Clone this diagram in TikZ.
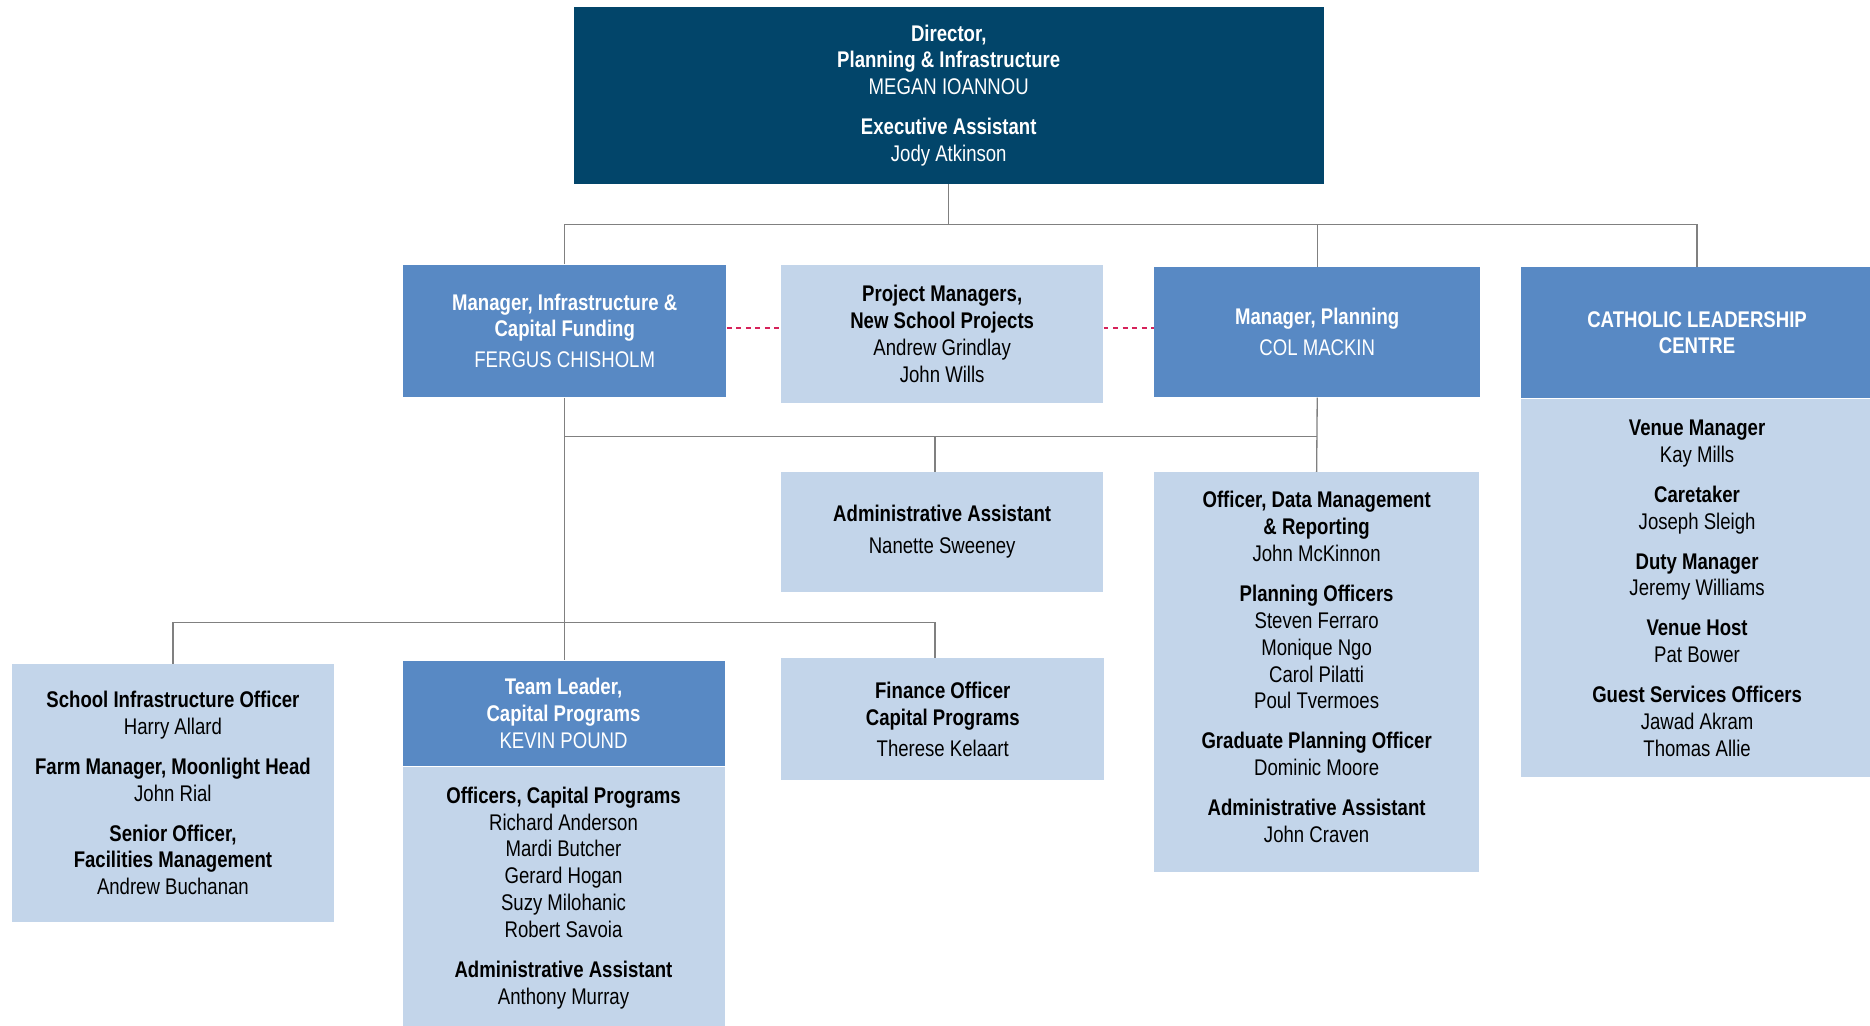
\documentclass[tikz,border=0pt]{standalone}
\usepackage{fontspec}
\setmainfont{Liberation Sans}[FakeStretch=0.82]
\usetikzlibrary{positioning}
\definecolor{navy}{RGB}{2,69,106}
\definecolor{midblue}{RGB}{88,137,196}
\definecolor{paleblue}{RGB}{195,213,234}
\definecolor{linkred}{RGB}{214,34,90}

\begin{document}
\begin{tikzpicture}[
    x=0.5pt, y=-0.5pt,
    every node/.style={font=\fontsize{9.5}{11.25}\selectfont, align=center, inner sep=0pt},
    dirbox/.style={rectangle, fill=navy, text=white, minimum width=314.5pt, minimum height=74pt},
    mgr/.style={rectangle, fill=midblue, text=white, minimum width=135.5pt},
    staff/.style={rectangle, fill=paleblue, text=black, minimum width=135.5pt},
    line/.style={draw, gray, line width=0.55pt},
    link/.style={draw, linkred, dash pattern=on 2pt off 2pt, line width=0.6pt}
]
    \useasboundingbox (0,0) rectangle (1568,860);

    % top level
    \node [dirbox] (dir) at (795.5,80) {\textbf{Director,}\\\textbf{Planning \& Infrastructure}\\MEGAN IOANNOU\\[5.5pt]\textbf{Executive Assistant}\\Jody Atkinson};

    % managers
    \node [mgr, minimum height=55.5pt] (infra) at (473.5,277.5) {\textbf{Manager, Infrastructure \&}\\\textbf{Capital Funding}\\[1.75pt]FERGUS CHISHOLM};
    \node [staff, minimum width=135pt, minimum height=58pt] (proj) at (790,280) {\textbf{Project Managers,}\\\textbf{New School Projects}\\Andrew Grindlay\\John Wills};
    \node [mgr, minimum width=136.5pt, minimum height=54.5pt] (plan) at (1104.5,278.5) {\textbf{Manager, Planning}\\[1.75pt]COL MACKIN};
    \node [mgr, minimum width=148pt, minimum height=55pt] (clc) at (1423,279) {\textbf{CATHOLIC LEADERSHIP}\\\textbf{CENTRE}};
    \node [staff, minimum width=148pt, minimum height=158.5pt, below=0pt of clc] (clcstaff) {\textbf{Venue Manager}\\Kay Mills\\[5.5pt]\textbf{Caretaker}\\Joseph Sleigh\\[5.5pt]\textbf{Duty Manager}\\Jeremy Williams\\[5.5pt]\textbf{Venue Host}\\Pat Bower\\[5.5pt]\textbf{Guest Services Officers}\\Jawad Akram\\Thomas Allie};

    % second row
    \node [staff, minimum width=135pt, minimum height=50pt] (admin) at (790,446) {\textbf{Administrative Assistant}\\[2pt]Nanette Sweeney};
    \node [staff, minimum width=136pt, minimum height=167.5pt] (pstaff) at (1104,563.5) {\textbf{Officer, Data Management}\\\textbf{\& Reporting}\\John McKinnon\\[5.5pt]\textbf{Planning Officers}\\Steven Ferraro\\Monique Ngo\\Carol Pilatti\\Poul Tvermoes\\[5.5pt]\textbf{Graduate Planning Officer}\\Dominic Moore\\[5.5pt]\textbf{Administrative Assistant}\\John Craven\\[-7pt]};

    % third row
    \node [staff, minimum width=135pt, minimum height=108pt] (school) at (145,665) {\textbf{School Infrastructure Officer}\\Harry Allard\\[5.5pt]\textbf{Farm Manager, Moonlight Head}\\John Rial\\[5.5pt]\textbf{Senior Officer,}\\\textbf{Facilities Management}\\Andrew Buchanan};
    \node [mgr, minimum width=135pt, minimum height=44pt] (team) at (472.5,598) {\textbf{Team Leader,}\\\textbf{Capital Programs}\\KEVIN POUND};
    \node [staff, minimum width=135pt, minimum height=110pt, below=0pt of team] (teamstaff) {\textbf{Officers, Capital Programs}\\Richard Anderson\\Mardi Butcher\\Gerard Hogan\\Suzy Milohanic\\Robert Savoia\\[5.5pt]\textbf{Administrative Assistant}\\Anthony Murray};
    \node [staff, minimum height=51pt] (finance) at (790.5,603) {\textbf{Finance Officer}\\\textbf{Capital Programs}\\[1.75pt]Therese Kelaart};

    % bus levels
    \coordinate (bus1) at (795.5,188);
    \coordinate (bus2) at (473.5,366);
    \coordinate (bus3) at (473.5,522);
    \coordinate (drop) at (784,0);
    \coordinate (dash) at (0,275);

    \path [line] (dir.south) -- (dir.south |- bus1);
    \path [line] (infra.north) |- (bus1) -| (clc.north);
    \path [line] (plan.north) -- (plan.north |- bus1);
    \path [line] (infra.south) -- (infra.south |- team.north);
    \path [line] (bus2) -- (plan.south |- bus2);
    \path [line] (plan.south) -- (pstaff.north);
    \path [line] (drop |- bus2) -- (drop |- admin.north);
    \path [line] (school.north) |- (bus3) -| (drop |- finance.north);
    \path [link] (infra.east |- dash) -- (proj.west |- dash);
    \path [link] (proj.east |- dash) -- (plan.west |- dash);
\end{tikzpicture}
\end{document}
